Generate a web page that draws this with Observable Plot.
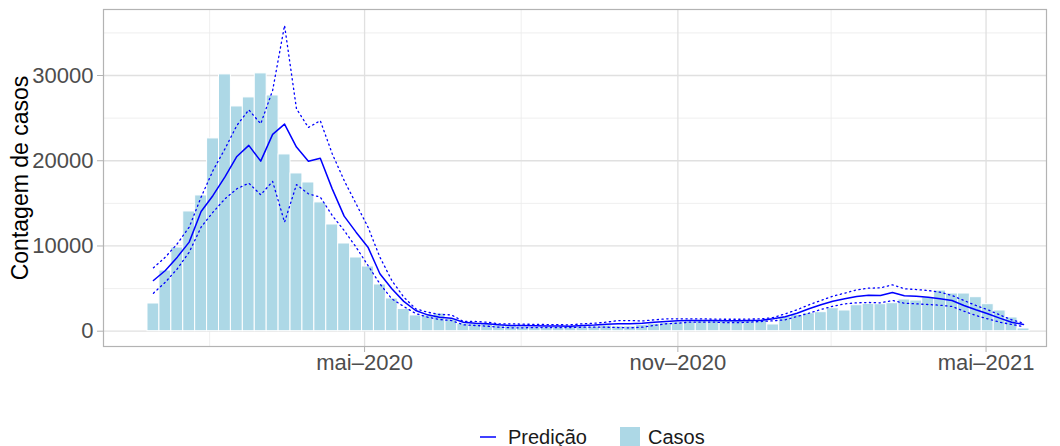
<!DOCTYPE html>
<html><head><meta charset="utf-8">
<script src="https://cdn.jsdelivr.net/npm/d3@7"></script>
<script src="https://cdn.jsdelivr.net/npm/@observablehq/plot@0.6"></script>
<style>
html,body{margin:0;padding:0;background:#fff;overflow:hidden;font-family:"Liberation Sans",Arial,sans-serif;}
#legend{display:flex;align-items:center;height:42px;padding-left:480px;font-size:20px;color:#1a1a1a;}
#legend svg{display:block}
</style></head><body>
<div id="chart"></div>
<div id="legend">
  <svg width="16" height="20" style="margin-right:12px"><line x1="0" x2="16" y1="10" y2="10" stroke="blue" stroke-width="1.5"/></svg>
  <span style="margin-right:33px">Predição</span>
  <svg width="20" height="20" style="margin-right:8px"><rect width="20" height="20" fill="#ADD8E6"/></svg>
  <span>Casos</span>
</div>
<script>
const startDate = "2019-12-29";
const casos = [3250,7120,9820,14050,15930,22620,30130,26370,27430,30250,27660,20740,18510,17450,15110,12520,10290,8650,7590,5480,3840,2600,1850,1850,2080,1450,900,870,850,700,600,550,500,480,500,550,550,560,670,560,560,750,870,980,1060,1140,1250,1250,1250,1250,1250,1250,790,1700,1920,2110,2230,2700,2430,3050,3210,3170,3290,3720,3600,3990,4770,4420,4420,3990,3170,2430,1610,320];
const predicao = [5950,7125,8690,10450,14050,15930,18100,20500,21800,19950,23090,24300,21600,19950,20300,16700,13500,11620,9860,6740,4980,3500,2430,1920,1640,1530,1060,940,870,750,670,670,630,600,600,590,670,720,820,870,870,940,1060,1140,1220,1250,1250,1250,1230,1230,1250,1290,1450,1700,2110,2630,3100,3520,3800,4070,4230,4190,4540,4150,4110,3990,3800,3600,3020,2510,2040,1530,1060,790];
const superior = [7440,8690,10260,12210,15730,18860,21400,24140,25970,24340,28250,35880,26100,23900,24700,20820,17690,14950,12210,8690,5950,4000,2630,2230,1960,1920,1140,1140,1060,870,870,830,800,780,760,750,870,940,1060,1250,1250,1200,1330,1450,1450,1450,1450,1420,1400,1400,1420,1450,1600,2040,2510,3100,3600,4110,4460,4850,5050,5090,5440,4980,4890,4770,4580,4190,3600,3020,2510,1920,1340,940];
const inferior = [4460,5750,7320,9270,12210,13970,15530,16710,17370,16010,17570,12790,17200,16120,15730,13580,11820,9860,7710,5560,3800,2900,2080,1640,1370,1250,750,670,590,470,400,400,420,430,430,430,470,470,470,430,390,470,670,870,940,1060,1060,1060,1000,1000,1060,1140,1220,1340,1720,2110,2550,2930,3210,3330,3370,3330,3600,3290,3210,3130,3050,2900,2350,1840,1450,1060,790,550];
const xTicks = ["2020-05-01","2020-11-01","2021-05-01"];
const xTickLabels = ["mai–2020","nov–2020","mai–2021"];
const xMinor = ["2020-01-31","2020-08-01","2021-01-30"];
const yTicks = [0,10000,20000,30000];
const yMinor = [5000,15000,25000,35000];
const yTitle = "Contagem de casos";

const day = 864e5;
const t0 = Date.parse(startDate + "T00:00Z");
const data = casos.map((c,i)=>({date:new Date(t0+i*7*day), casos:c, pred:predicao[i], sup:superior[i], inf:inferior[i]}));
const xTickDates = xTicks.map(s=>new Date(s+"T00:00Z"));
const xMinorDates = xMinor.map(s=>new Date(s+"T00:00Z"));
const fmtX = d => xTickLabels[xTickDates.findIndex(t=>+t===+d)];

const chart = Plot.plot({
  width: 1060, height: 416,
  marginLeft: 103, marginRight: 14, marginTop: 9, marginBottom: 70,
  style: {fontFamily: '"Liberation Sans", Arial, sans-serif', background: "white"},
  x: {type: "utc", domain: [new Date("2019-11-29T16:00Z"), new Date("2021-06-05T12:00Z")]},
  y: {domain: [-1795, 37745]},
  marks: [
    Plot.ruleY(yMinor, {stroke:"#EBEBEB", strokeWidth:0.8}),
    Plot.ruleX(xMinorDates, {stroke:"#EBEBEB", strokeWidth:0.8}),
    Plot.ruleY(yTicks, {stroke:"#E0E0E0", strokeWidth:1.3}),
    Plot.ruleX(xTickDates, {stroke:"#E0E0E0", strokeWidth:1.3}),
    Plot.rectY(data, {x1:d=>new Date(+d.date-3.5*day), x2:d=>new Date(+d.date+3.5*day), y:"casos", fill:"#ADD8E6", stroke:"white", strokeWidth:1}),
    Plot.line(data, {x:"date", y:"sup", stroke:"blue", strokeWidth:1.3, strokeDasharray:"1.3,3.5"}),
    Plot.line(data, {x:"date", y:"inf", stroke:"blue", strokeWidth:1.3, strokeDasharray:"1.3,3.5"}),
    Plot.line(data, {x:"date", y:"pred", stroke:"blue", strokeWidth:1.5}),
    Plot.frame({stroke:"#B3B3B3", strokeWidth:1.2}),
    Plot.axisY(yTicks, {tickSize:6, tickPadding:4, fontSize:22, stroke:"#B3B3B3", fill:"#4D4D4D", label:null, tickFormat:d=>String(d)}),
    Plot.axisX(xTickDates, {tickSize:6, tickPadding:2, fontSize:22, stroke:"#B3B3B3", fill:"#4D4D4D", label:null, tickFormat:fmtX}),
    Plot.text([yTitle], {frameAnchor:"left", dx:-83, rotate:-90, textAnchor:"middle", fontSize:23, fill:"black"})
  ]
});
document.getElementById("chart").appendChild(chart);
</script>
</body></html>
